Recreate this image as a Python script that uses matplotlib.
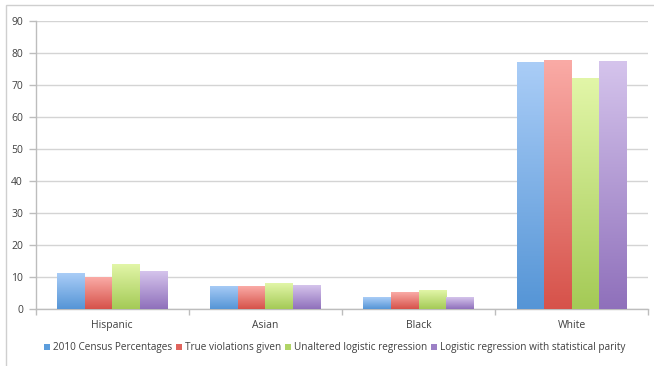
import matplotlib
matplotlib.use("Agg")
import matplotlib.pyplot as plt
import numpy as np
from matplotlib.colors import LinearSegmentedColormap
from matplotlib.patches import Patch, Rectangle

# --- Data ---
CATEGORIES = ["Hispanic", "Asian", "Black", "White"]
SERIES = [
    "2010 Census Percentages",
    "True violations given",
    "Unaltered logistic regression",
    "Logistic regression with statistical parity",
]
census = [11.1, 7.2, 3.6, 77.2]
true_violations = [10.0, 7.0, 5.3, 77.8]
unaltered_lr = [14.0, 7.9, 5.8, 72.1]
parity_lr = [11.6, 7.4, 3.6, 77.4]

# (top, bottom) colours for the vertical gradient of each series
GRADIENTS = [
    ("#aacdf7", "#5595d6"),
    ("#faaba6", "#d6524a"),
    ("#e2f6a8", "#a4ca56"),
    ("#d5c4ec", "#8f70bb"),
]
LEGEND_COLORS = ["#5c9ddc", "#e0645d", "#b0d466", "#9c80c6"]

GRID = "#d4d4d4"
AXIS = "#bdbdbd"
TEXT = "#404040"

plt.rcParams["font.family"] = ["Open Sans", "DejaVu Sans"]

fig = plt.figure(figsize=(6.54, 3.66), dpi=100)
ax = fig.add_axes([0.0543, 0.157, 0.937, 0.786])

# light frame round the whole chart
fig.patches.append(Rectangle((6 / 654, -0.05), 1.2, 1 - 5 / 366 + 0.05,
                             transform=fig.transFigure, fill=False,
                             edgecolor="#cfcfcf", linewidth=1.0))

values = [census, true_violations, unaltered_lr, parity_lr]
n_series = len(values)
group_w = 0.72
bar_w = group_w / n_series
x = np.arange(len(CATEGORIES))

grad = np.linspace(0, 1, 256).reshape(-1, 1)
for i, (vals, (top, bottom)) in enumerate(zip(values, GRADIENTS)):
    cmap = LinearSegmentedColormap.from_list(f"s{i}", [bottom, top])
    offs = x - group_w / 2 + i * bar_w
    bars = ax.bar(offs, vals, width=bar_w, align="edge",
                  color="none", edgecolor="none", zorder=3)
    for b in bars:
        bx, by = b.get_x(), b.get_y()
        bw, bh = b.get_width(), b.get_height()
        im = ax.imshow(grad, cmap=cmap, origin="lower", aspect="auto",
                       extent=(bx, bx + bw, by, by + bh), zorder=3,
                       interpolation="bilinear")
        im.set_clip_path(b)

ax.set_xlim(-0.5, len(CATEGORIES) - 0.5)
ax.set_ylim(0, 90)
ax.set_yticks(np.arange(0, 91, 10))
ax.yaxis.grid(True, color=GRID, linewidth=1.0, zorder=0)
ax.set_axisbelow(True)

ax.set_xticks(x)
ax.set_xticklabels(CATEGORIES)
ax.set_xticks(np.arange(-0.5, len(CATEGORIES), 1.0), minor=True)
ax.tick_params(axis="x", which="major", length=0, pad=8,
               labelsize=7.5, labelcolor=TEXT)
ax.tick_params(axis="x", which="minor", length=4, color=AXIS, width=1.0)
ax.tick_params(axis="y", length=5, color=AXIS, width=1.0,
               labelsize=7.5, labelcolor=TEXT, pad=4)

for side in ("top", "right"):
    ax.spines[side].set_visible(False)
for side in ("left", "bottom"):
    ax.spines[side].set_color(AXIS)
    ax.spines[side].set_linewidth(1.0)

handles = [Patch(facecolor=c, edgecolor="none") for c in LEGEND_COLORS]
fig.legend(handles, SERIES, loc="center", bbox_to_anchor=(0.512, 0.05),
           ncol=4, frameon=False, fontsize=7.2, handlelength=0.6,
           handleheight=0.6, handletextpad=0.3, columnspacing=0.4,
           labelcolor=TEXT)

fig.savefig("out.png", dpi=100)
